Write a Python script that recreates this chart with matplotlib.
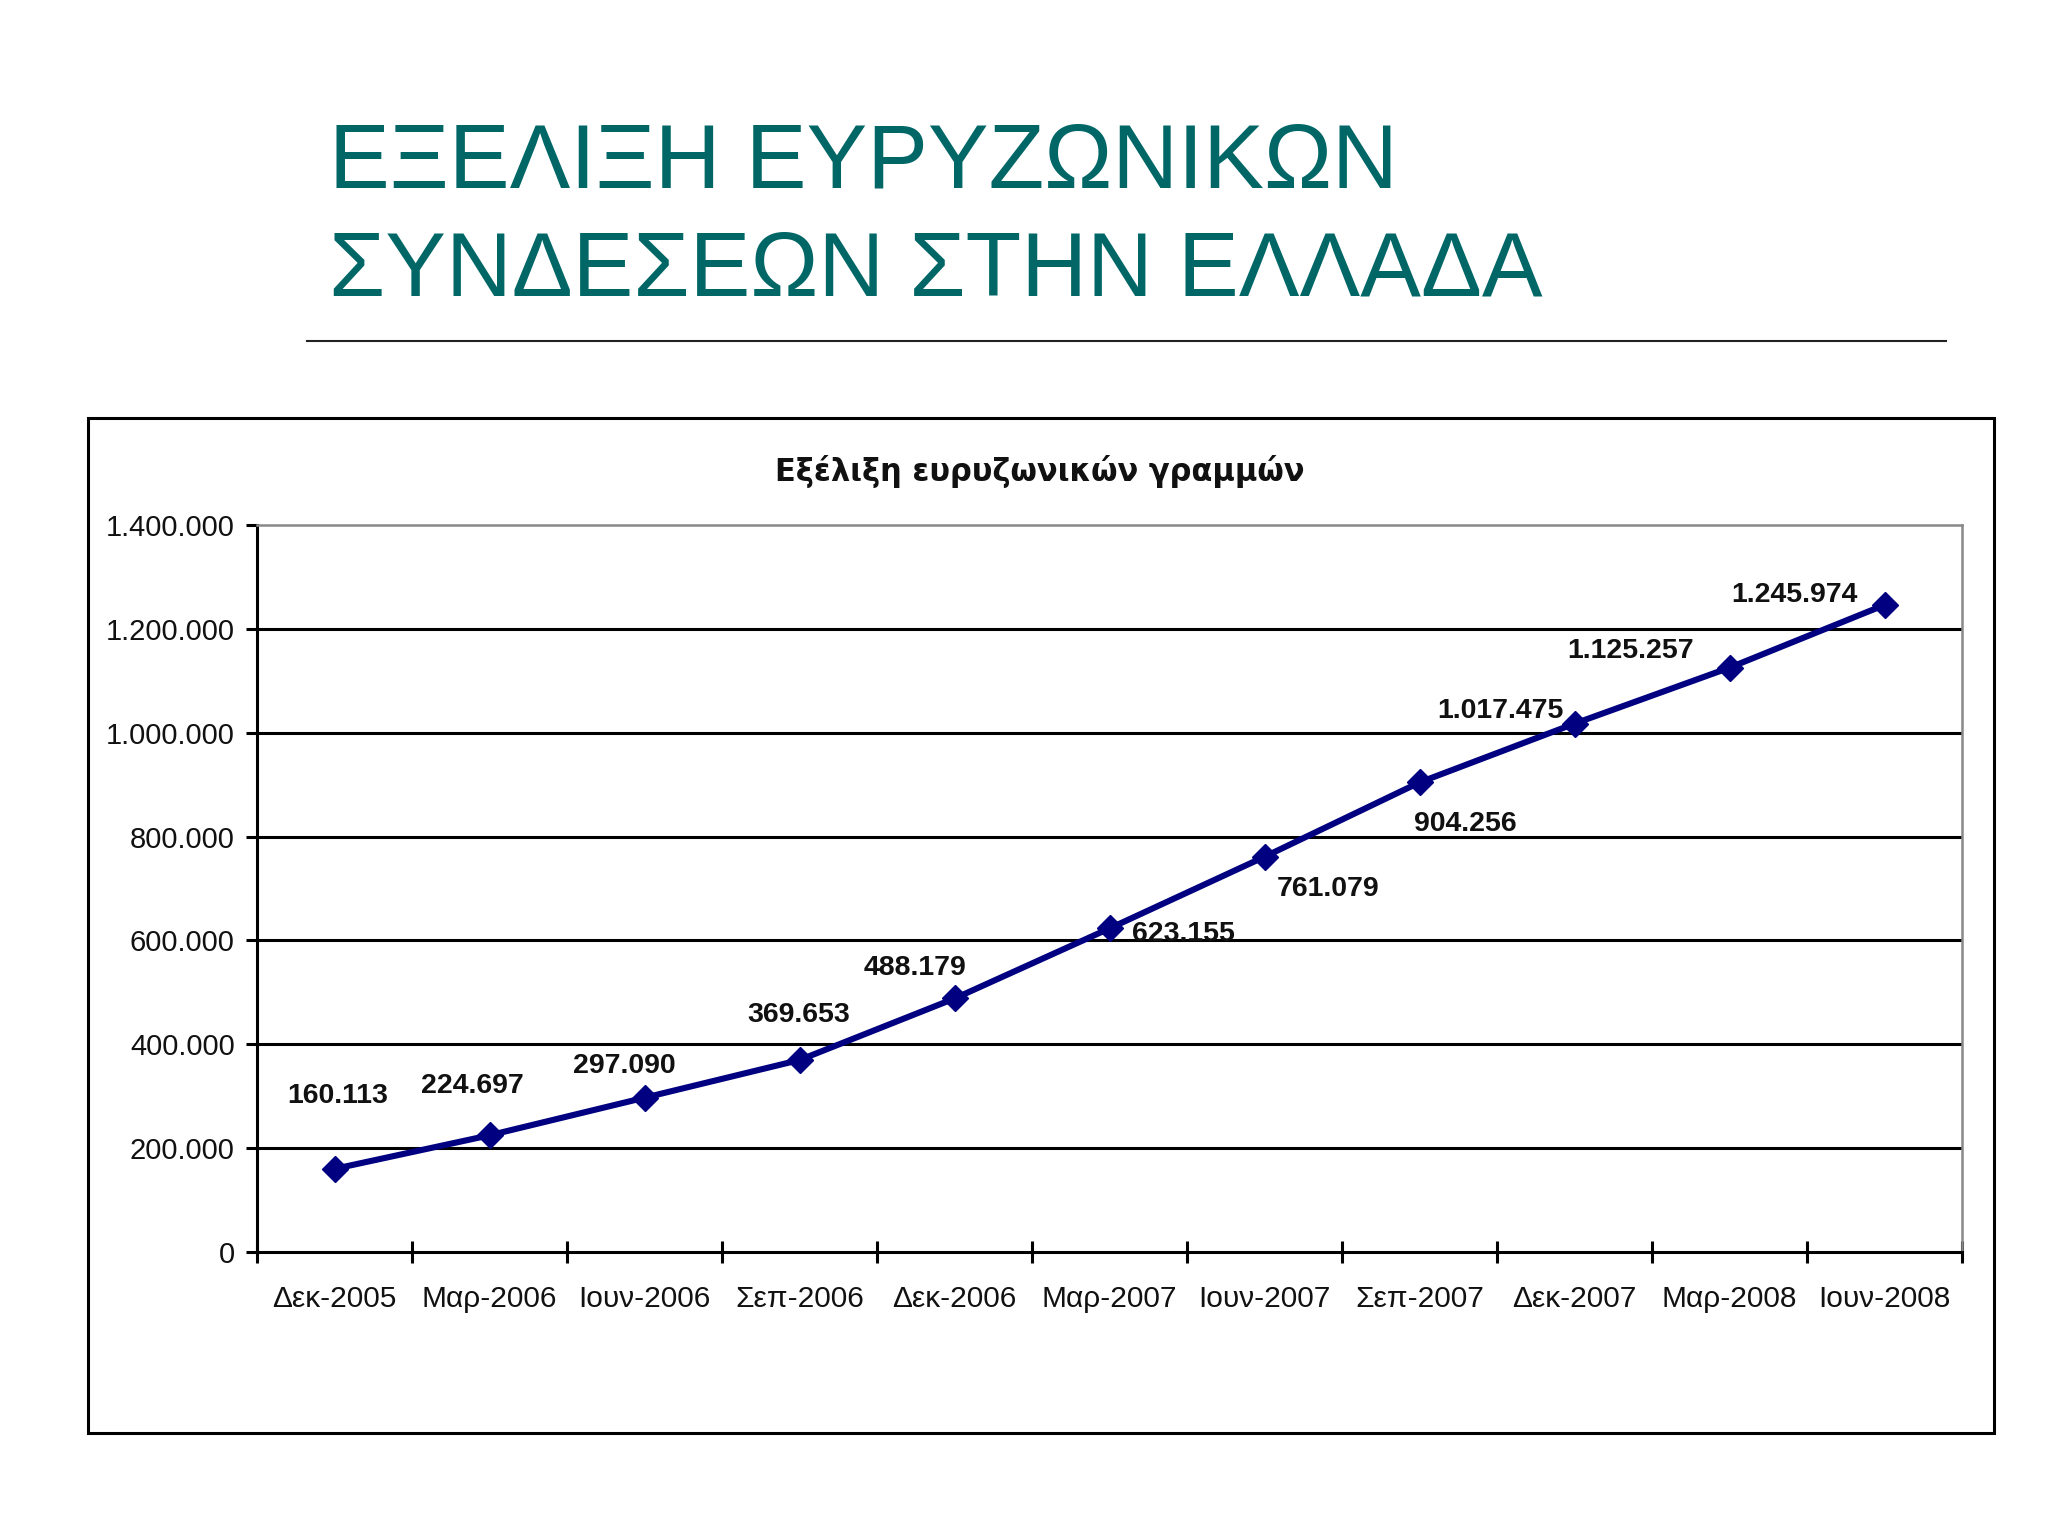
import matplotlib
matplotlib.use("Agg")
import matplotlib.pyplot as plt
from matplotlib.patches import Rectangle
from matplotlib.lines import Line2D

# ---- data ----
categories = ["Δεκ-2005", "Μαρ-2006", "Ιουν-2006", "Σεπ-2006", "Δεκ-2006",
              "Μαρ-2007", "Ιουν-2007", "Σεπ-2007", "Δεκ-2007", "Μαρ-2008", "Ιουν-2008"]
values = [160113, 224697, 297090, 369653, 488179, 623155,
          761079, 904256, 1017475, 1125257, 1245974]
y_ticks = [0, 200000, 400000, 600000, 800000, 1000000, 1200000, 1400000]
title_lines = ["ΕΞΕΛΙΞΗ ΕΥΡΥΖΩΝΙΚΩΝ", "ΣΥΝΔΕΣΕΩΝ ΣΤΗΝ ΕΛΛΑΔΑ"]
chart_title = "Εξέλιξη ευρυζωνικών γραμμών"

# label offsets (pixels) relative to markers
label_offsets = [(3, 73), (-17, 49), (-20, 32), (-1, 45), (-40, 30), (74, -6),
                 (64, -32), (46, -42), (-74, 13), (-99, 17), (-90, 10)]

def fmt(v):
    return f"{v:,}".replace(",", ".")

W, H = 2048, 1536
plt.rcParams['font.family'] = ['Liberation Sans', 'DejaVu Sans']
fig = plt.figure(figsize=(W / 100, H / 100), dpi=100)
fig.patch.set_facecolor("white")

def fx(px):
    return px / W

def fy(py):
    return 1 - py / H

# Slide title
teal = "#006666"
fig.text(fx(329), fy(187), title_lines[0], fontsize=65.5, color=teal, ha="left", va="baseline")
fig.text(fx(329), fy(295), title_lines[1], fontsize=65.5, color=teal, ha="left", va="baseline")
fig.add_artist(Line2D([fx(307), fx(1946)], [fy(341), fy(341)], color="#222222", lw=1.5))

# Chart box
fig.add_artist(Rectangle((fx(88), fy(1433)), fx(1994) - fx(88), fy(418) - fy(1433),
                         fill=False, edgecolor="black", lw=2.2, transform=fig.transFigure))

fig.text(fx(1040), fy(471), chart_title, fontsize=22, fontweight="semibold",
         family=["DejaVu Sans"], ha="center", va="center", color="#111111")

ax = fig.add_axes([fx(257), fy(1252), fx(1962) - fx(257), fy(525) - fy(1252)])
x = list(range(len(categories)))
ax.set_xlim(-0.5, len(categories) - 0.5)
ax.set_ylim(y_ticks[0], y_ticks[-1])

for v in y_ticks[1:-1]:
    ax.axhline(v, color="black", lw=2.2, zorder=1)

ax.plot(x, values, color="#000080", lw=4.4, marker="D", markersize=13.5,
        markeredgecolor="#000080", zorder=3)

for xi, v, (dx, dy) in zip(x, values, label_offsets):
    ax.annotate(fmt(v), (xi, v), xytext=(dx, dy), textcoords="offset pixels",
                ha="center", va="center", fontsize=20.5, fontweight="bold", color="#111111")

ax.set_yticks(y_ticks)
ax.set_yticklabels([fmt(v) for v in y_ticks])
ax.set_xticks(x)
ax.set_xticklabels(categories)
ax.set_xticks([i - 0.5 for i in range(len(categories) + 1)], minor=True)
ax.tick_params(axis="x", which="major", length=0, pad=24, labelsize=21.5, labelcolor="#111111")
ax.tick_params(axis="x", which="minor", direction="inout", length=16, width=2.2, color="black")
ax.tick_params(axis="y", which="major", direction="out", length=8, width=2.2, pad=8,
               labelsize=21, labelcolor="#111111")

for s in ["left", "bottom"]:
    ax.spines[s].set_color("black")
    ax.spines[s].set_linewidth(2.2)
for s in ["top", "right"]:
    ax.spines[s].set_color("#888888")
    ax.spines[s].set_linewidth(1.8)
ax.set_facecolor("white")

fig.savefig("out.png", dpi=100)
